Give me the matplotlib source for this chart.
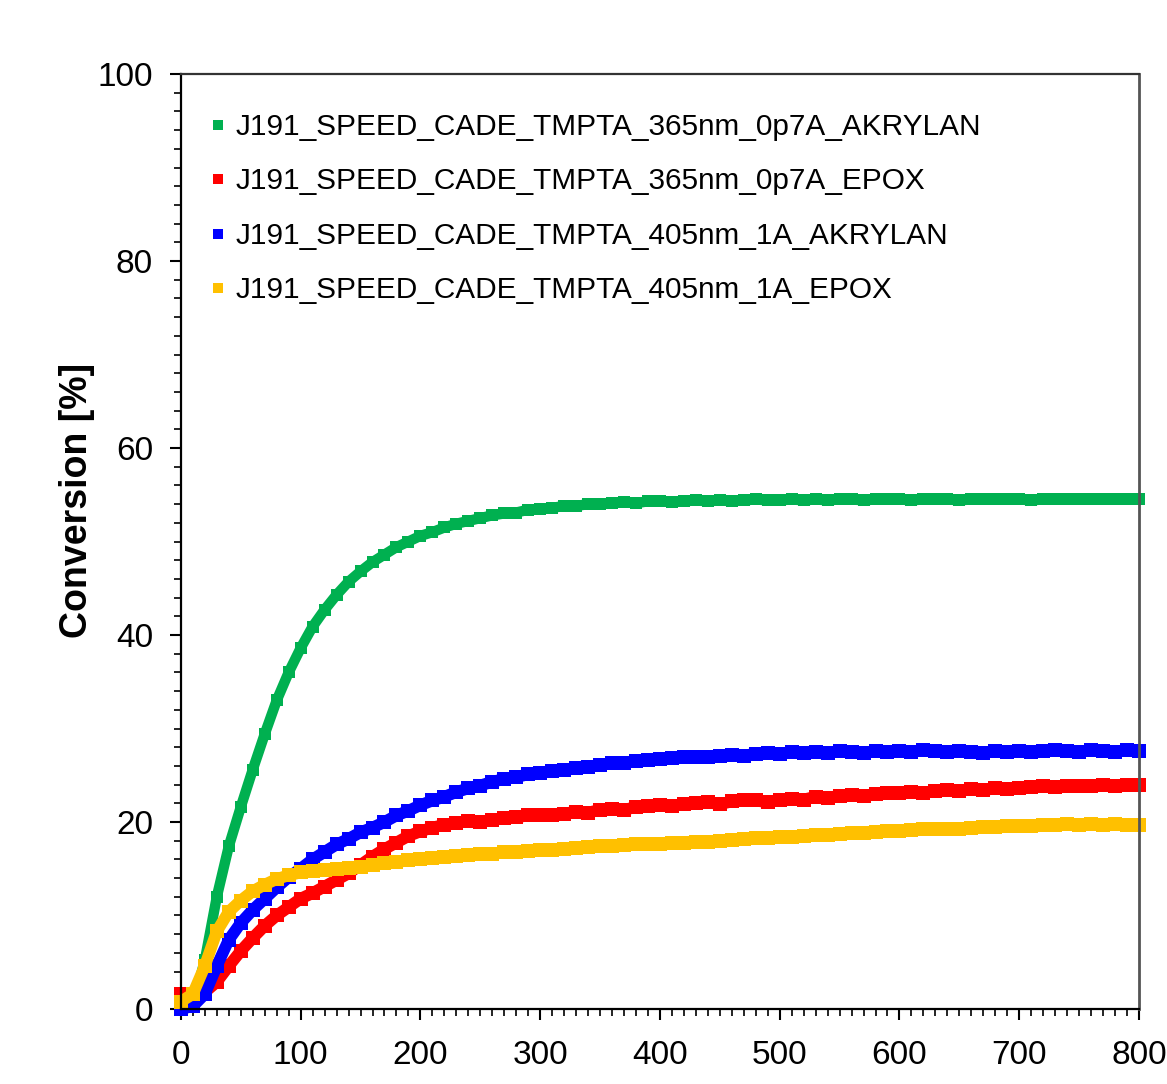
import numpy as np
import matplotlib
matplotlib.use('Agg')
import matplotlib.pyplot as plt
from matplotlib.lines import Line2D
from matplotlib.ticker import MultipleLocator

plt.rcParams['font.family'] = ['Liberation Sans', 'DejaVu Sans']

# Time axis [s], sampled every 10 s
time_s = np.arange(0, 801, 10)

labels = [
    "J191_SPEED_CADE_TMPTA_365nm_0p7A_AKRYLAN",
    "J191_SPEED_CADE_TMPTA_365nm_0p7A_EPOX",
    "J191_SPEED_CADE_TMPTA_405nm_1A_AKRYLAN",
    "J191_SPEED_CADE_TMPTA_405nm_1A_EPOX",
]
colors = ['#00B050', '#FF0000', '#0000FF', '#FFC000']

conv_365_akrylan = [
    0.0, 0.4, 5.2, 12.0, 17.4, 21.6, 25.6, 29.4, 33.0, 36.0, 38.6,
    40.9, 42.7, 44.3, 45.7, 46.8, 47.8, 48.6, 49.4, 50.0, 50.6,
    51.0, 51.5, 51.9, 52.2, 52.5, 52.8, 53.0, 53.1, 53.4, 53.5,
    53.6, 53.8, 53.8, 54.0, 54.0, 54.1, 54.2, 54.1, 54.3, 54.3,
    54.2, 54.3, 54.4, 54.3, 54.4, 54.3, 54.4, 54.5, 54.4, 54.4,
    54.5, 54.4, 54.5, 54.4, 54.5, 54.5, 54.4, 54.5, 54.6, 54.5,
    54.4, 54.5, 54.6, 54.5, 54.4, 54.5, 54.5, 54.6, 54.5, 54.5,
    54.4, 54.5, 54.6, 54.5, 54.5, 54.6, 54.5, 54.5, 54.6, 54.5,
]
conv_365_epox = [
    1.6, 1.4, 1.8, 2.9, 4.6, 6.2, 7.6, 8.9, 10.0, 10.9, 11.8,
    12.4, 13.1, 13.8, 14.5, 15.4, 16.3, 17.1, 17.8, 18.5, 19.0,
    19.4, 19.7, 19.9, 20.1, 20.0, 20.2, 20.4, 20.5, 20.7, 20.8,
    20.7, 20.9, 21.1, 21.0, 21.3, 21.4, 21.3, 21.6, 21.7, 21.8,
    21.7, 21.9, 22.0, 22.1, 21.9, 22.2, 22.4, 22.3, 22.1, 22.4,
    22.5, 22.4, 22.7, 22.6, 22.8, 22.9, 22.8, 23.0, 23.1, 23.1,
    23.2, 23.1, 23.3, 23.4, 23.3, 23.5, 23.4, 23.6, 23.5, 23.6,
    23.7, 23.8, 23.7, 23.9, 23.8, 23.9, 24.0, 23.9, 24.0, 24.0,
]
conv_405_akrylan = [
    0.0, 0.3, 1.6, 4.6, 7.4, 9.2, 10.6, 11.8, 13.0, 14.1, 15.0,
    16.0, 16.8, 17.6, 18.2, 18.9, 19.4, 20.0, 20.7, 21.2, 21.8,
    22.3, 22.7, 23.2, 23.6, 23.9, 24.3, 24.6, 24.8, 25.1, 25.2,
    25.5, 25.6, 25.8, 25.9, 26.1, 26.3, 26.3, 26.5, 26.6, 26.7,
    26.8, 26.9, 27.0, 26.9, 27.1, 27.2, 27.1, 27.3, 27.4, 27.3,
    27.5, 27.4, 27.5, 27.4, 27.6, 27.5, 27.4, 27.6, 27.5, 27.6,
    27.5, 27.7, 27.6, 27.5, 27.6, 27.5, 27.4, 27.6, 27.5, 27.6,
    27.5, 27.6, 27.7, 27.6, 27.5, 27.7, 27.6, 27.5, 27.7, 27.6,
]
conv_405_epox = [
    0.8, 1.6, 4.6, 8.3, 10.4, 11.6, 12.6, 13.3, 13.9, 14.3, 14.6,
    14.8, 14.9, 15.0, 15.1, 15.2, 15.4, 15.6, 15.7, 15.9, 16.0,
    16.2, 16.3, 16.4, 16.5, 16.6, 16.6, 16.8, 16.8, 16.9, 17.0,
    17.0, 17.1, 17.2, 17.3, 17.4, 17.4, 17.5, 17.6, 17.6, 17.7,
    17.8, 17.8, 17.9, 17.9, 18.0, 18.1, 18.2, 18.3, 18.3, 18.4,
    18.4, 18.5, 18.6, 18.6, 18.7, 18.8, 18.8, 18.9, 19.0, 19.0,
    19.1, 19.2, 19.2, 19.3, 19.3, 19.4, 19.5, 19.5, 19.6, 19.6,
    19.6, 19.7, 19.7, 19.8, 19.7, 19.8, 19.7, 19.8, 19.7, 19.7,
]
series = [conv_365_akrylan, conv_365_epox, conv_405_akrylan, conv_405_epox]
band_widths = [7.5, 8.5, 8.5, 8.5]

fig = plt.figure(figsize=(11.67, 10.84), dpi=100)
ax = fig.add_axes([0.155, 0.0692, 0.821, 0.8625])

# dense square markers joined by a thick line of the same colour
for values, color, lw in zip(series, colors, band_widths):
    ax.plot(time_s, values, '-', color=color, lw=lw, solid_capstyle='butt',
            clip_on=False)
    ax.plot(time_s, values, 's', color=color, ms=lw + 1.5, mew=0,
            clip_on=False)

ax.set_xlim(0, 800)
ax.set_ylim(0, 100)
ax.xaxis.set_major_locator(MultipleLocator(100))
ax.xaxis.set_minor_locator(MultipleLocator(10))
ax.yaxis.set_major_locator(MultipleLocator(20))
ax.yaxis.set_minor_locator(MultipleLocator(2))
ax.tick_params(which='major', direction='out', length=8, width=1.5,
               labelsize=24)
ax.tick_params(which='minor', direction='out', length=5, width=1.2)
ax.tick_params(axis='x', which='major', pad=14)
ax.tick_params(axis='y', which='major', pad=12)

for side in ['left', 'bottom', 'top']:
    ax.spines[side].set_linewidth(1.6)
    ax.spines[side].set_color('black')
ax.spines['top'].set_color('#333333')
ax.spines['right'].set_linewidth(2)
ax.spines['right'].set_color('#555555')

ax.set_ylabel('Conversion [%]', fontsize=27, fontweight='bold')
ax.yaxis.set_label_coords(-0.09, 0.544)

handles = [Line2D([], [], ls='none', marker='s', ms=6.5, mew=0, color=c)
           for c in colors]
ax.legend(handles, labels, loc='upper left', bbox_to_anchor=(0.017, 0.971),
          frameon=False, fontsize=21.4, handlelength=0.6, handletextpad=0.3,
          labelspacing=0.89, borderaxespad=0)

fig.savefig('out.png', dpi=100)
